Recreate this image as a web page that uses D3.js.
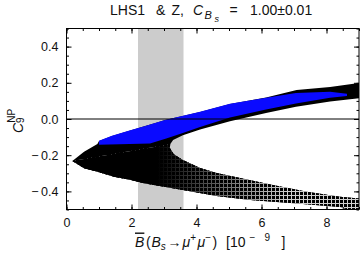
<!DOCTYPE html>
<html>
<head>
<meta charset="utf-8">
<script src="https://cdn.jsdelivr.net/npm/d3@7"></script>
<style>
  body { margin: 0; background: #fff; }
  svg text { font-family: "Liberation Sans", Arial, sans-serif; fill: #111; }
</style>
</head>
<body>
<div class="chart"></div>
<script>
// outline of the allowed region [B(Bs->mumu) 1e-9, C9NP]
var upperTop = [[9.0,0.199],[8.11,0.177],[7.08,0.160],[6.14,0.119],[5.03,0.083],[4.11,0.039],[3.03,-0.006],
    [2.84,-0.017],[2.42,-0.039],[1.91,-0.066],[1.40,-0.094],[1.0,-0.122],[0.95,-0.138],[0.54,-0.181],[0.18,-0.232]];
var lowerOuter = [[0.18,-0.232],[0.54,-0.272],[0.95,-0.291],[1.46,-0.319],[1.98,-0.337],[2.38,-0.355],[3.58,-0.392],
    [4.62,-0.425],[5.65,-0.448],[6.88,-0.464],[8.42,-0.486],[9.0,-0.52]];
var lowerInner = [[9.0,-0.439],[8.42,-0.429],[7.40,-0.402],[6.35,-0.365],[5.34,-0.326],[4.62,-0.298],[4.11,-0.271],
    [3.58,-0.227],[3.30,-0.195],[3.18,-0.160],[3.19,-0.140]];
var upperInner = [[3.28,-0.116],[3.58,-0.090],[4.11,-0.058],[5.03,-0.013],[6.14,0.033],[7.06,0.068],[8.11,0.096],[9.0,0.114]];

// blue subset
var blueTop = [[1.0,-0.120],[1.40,-0.093],[1.91,-0.065],[2.42,-0.038],[3.03,-0.005],[4.11,0.040],[5.03,0.084],
    [6.14,0.117],[7.06,0.144],[8.11,0.150],[8.63,0.140]];
var blueBottom = [[8.63,0.127],[8.11,0.117],[7.06,0.085],[6.14,0.052],[5.03,0.008],[4.11,-0.044],[3.58,-0.078],
    [3.07,-0.108],[2.57,-0.136],[1.0,-0.142]];

var expBand = [2.2, 3.6];   // measured range (grey)
var xMajor = [0, 2, 4, 6, 8];
var yMajor = [-0.4, -0.2, 0.0, 0.2, 0.4];

var width = 360, height = 259;
var pLeft = 66.5, pRight = 359, pTop = 28.5, pBottom = 209.5;

var svg = d3.select(".chart").append("svg")
    .attr("width", width)
    .attr("height", height);

var x = d3.scaleLinear().domain([0, 9]).range([pLeft, pRight]);
var y = d3.scaleLinear().domain([-0.5, 0.5]).range([pBottom, pTop]);

var defs = svg.append("defs");
defs.append("clipPath").attr("id", "plotclip")
  .append("rect").attr("x", pLeft).attr("y", pTop).attr("width", pRight - pLeft).attr("height", pBottom - pTop);

// dotted texture of the lower branch
var pat = defs.append("pattern").attr("id", "dots")
    .attr("patternUnits", "userSpaceOnUse")
    .attr("width", 4).attr("height", 4);
pat.append("rect").attr("width", 4).attr("height", 4).attr("fill", "#d0d0d0");
pat.append("rect").attr("width", 3).attr("height", 3).attr("fill", "#000");

var grad = defs.append("linearGradient").attr("id", "fade")
    .attr("gradientUnits", "userSpaceOnUse")
    .attr("x1", x(2.8)).attr("x2", x(6.8)).attr("y1", 0).attr("y2", 0);
grad.append("stop").attr("offset", 0).attr("stop-color", "#000").attr("stop-opacity", 1);
grad.append("stop").attr("offset", 1).attr("stop-color", "#000").attr("stop-opacity", 0);

var line = d3.line().x(function(d){ return x(d[0]); }).y(function(d){ return y(d[1]); });

var plot = svg.append("g").attr("clip-path", "url(#plotclip)");

plot.append("rect")
    .attr("x", x(expBand[0]))
    .attr("y", pTop)
    .attr("width", x(expBand[1]) - x(expBand[0]))
    .attr("height", pBottom - pTop)
    .attr("fill", "#cccccc");

var whole = upperTop.concat(lowerOuter.slice(1), lowerInner, upperInner);
plot.append("path")
    .attr("d", line(whole) + "Z")
    .attr("fill", "#000");

var lowerBand = lowerOuter.concat(lowerInner);
plot.append("path")
    .attr("d", line(lowerBand) + "Z")
    .attr("fill", "url(#dots)");
plot.append("path")
    .attr("d", line(lowerBand) + "Z")
    .attr("fill", "url(#fade)");

plot.append("path")
    .attr("d", line(blueTop.concat(blueBottom)) + "Z")
    .attr("fill", "#0a0aff");

// zero line
plot.append("line")
    .attr("x1", pLeft).attr("x2", pRight)
    .attr("y1", y(0)).attr("y2", y(0))
    .attr("stroke", "#000").attr("stroke-width", 1);

// axes, ticks pointing inwards on all sides
var fmt = function(d){
  var s = Math.abs(d).toFixed(1);
  return d < 0 ? "\u2212\u2009" + s : s;
};
var xMinor = d3.range(0, 9.01, 0.5), yMinor = d3.range(-0.5, 0.501, 0.05);

function styleAxis(g) {
  g.select(".domain").remove();
  g.selectAll("line").attr("stroke", "#000");
  g.selectAll("text").attr("font-size", 12.5).attr("font-family", "Liberation Sans, Arial, sans-serif");
}

svg.append("g").attr("transform", "translate(0," + pBottom + ")")
    .call(d3.axisBottom(x).tickValues(xMajor).tickSize(-5).tickPadding(8.5).tickFormat(d3.format("d")))
    .call(styleAxis);
svg.append("g").attr("transform", "translate(0," + pBottom + ")")
    .call(d3.axisBottom(x).tickValues(xMinor).tickSize(-2.5).tickFormat(""))
    .call(styleAxis);
svg.append("g").attr("transform", "translate(0," + pTop + ")")
    .call(d3.axisTop(x).tickValues(xMajor).tickSize(-5).tickFormat(""))
    .call(styleAxis);
svg.append("g").attr("transform", "translate(0," + pTop + ")")
    .call(d3.axisTop(x).tickValues(xMinor).tickSize(-2.5).tickFormat(""))
    .call(styleAxis);
svg.append("g").attr("transform", "translate(" + pLeft + ",0)")
    .call(d3.axisLeft(y).tickValues(yMajor).tickSize(-5).tickPadding(8).tickFormat(fmt))
    .call(styleAxis);
svg.append("g").attr("transform", "translate(" + pLeft + ",0)")
    .call(d3.axisLeft(y).tickValues(yMinor).tickSize(-2.5).tickFormat(""))
    .call(styleAxis);
svg.append("g").attr("transform", "translate(" + pRight + ",0)")
    .call(d3.axisRight(y).tickValues(yMajor).tickSize(-5).tickFormat(""))
    .call(styleAxis);
svg.append("g").attr("transform", "translate(" + pRight + ",0)")
    .call(d3.axisRight(y).tickValues(yMinor).tickSize(-2.5).tickFormat(""))
    .call(styleAxis);

svg.append("rect")
    .attr("x", pLeft).attr("y", pTop)
    .attr("width", pRight - pLeft).attr("height", pBottom - pTop)
    .attr("fill", "none").attr("stroke", "#000").attr("stroke-width", 1);

// title
var title = svg.append("text").attr("y", 15).attr("font-size", 14);
title.append("tspan").attr("x", 110).text("LHS1");
title.append("tspan").attr("x", 156).text("&");
title.append("tspan").attr("x", 171.5).text("Z,");
title.append("tspan").attr("x", 193).attr("font-style", "italic").text("C");
title.append("tspan").attr("x", 204.5).attr("dy", 4).attr("font-size", 11).attr("font-style", "italic").text("B");
title.append("tspan").attr("x", 214.5).attr("dy", 2.5).attr("font-size", 9).attr("font-style", "italic").text("s");
title.append("tspan").attr("x", 229.5).attr("dy", -6.5).text("=");
title.append("tspan").attr("x", 250).text("1.00\u00b10.01");

// x label
var xl = svg.append("text").attr("y", 246.5).attr("font-size", 14);
xl.append("tspan").attr("x", 135).attr("font-style", "italic").style("text-decoration", "overline").text("B");
xl.append("tspan").attr("x", 146).text("(");
xl.append("tspan").attr("x", 151.5).attr("font-style", "italic").text("B");
xl.append("tspan").attr("dy", 3).attr("font-size", 10).attr("font-style", "italic").text("s");
xl.append("tspan").attr("x", 167.5).attr("dy", -3).text("\u2192");
xl.append("tspan").attr("x", 182.5).attr("font-style", "italic").text("\u03bc");
xl.append("tspan").attr("dy", -6).attr("font-size", 10).text("+");
xl.append("tspan").attr("x", 197.5).attr("dy", 6).attr("font-style", "italic").text("\u03bc");
xl.append("tspan").attr("dy", -6).attr("font-size", 10).text("\u2212");
xl.append("tspan").attr("x", 212.5).attr("dy", 6).text(")");
xl.append("tspan").attr("x", 226).text("[10");
xl.append("tspan").attr("x", 249.5).attr("dy", -6).attr("font-size", 10).text("\u2212");
xl.append("tspan").attr("x", 264.5).attr("font-size", 10).text("9");
xl.append("tspan").attr("x", 281.5).attr("dy", 6).text("]");

// y label
var yl = svg.append("text").attr("font-size", 14)
    .attr("transform", "translate(22.5,133) rotate(-90)");
yl.append("tspan").attr("font-style", "italic").text("C");
yl.append("tspan").attr("dy", 1).attr("font-size", 10).text("9");
yl.append("tspan").attr("dx", -5.5).attr("dy", -9).attr("font-size", 10).text("NP");
</script>
</body>
</html>
